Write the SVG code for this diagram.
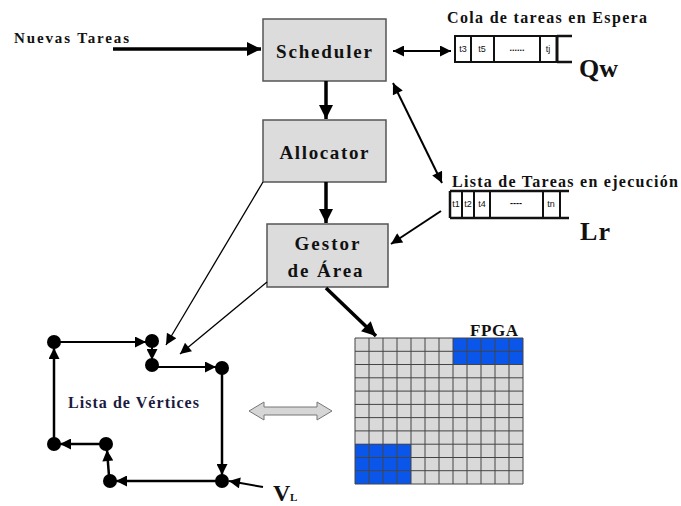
<svg xmlns="http://www.w3.org/2000/svg" width="681" height="506" viewBox="0 0 681 506">
<style>
.box{fill:#dcdcdc;stroke:#555;stroke-width:1.5}
.t{font-family:"Liberation Serif","Times New Roman",serif;font-weight:bold;fill:#111}
.lbl{font-size:19px;text-anchor:middle}
.sm{font-family:"Liberation Sans",Arial,sans-serif;font-size:9px;fill:#111;text-anchor:middle}
.q{fill:#fff;stroke:#111;stroke-width:2}
.thick{stroke:#000;stroke-width:3.5;fill:none}
.thin{stroke:#000;stroke-width:1.3;fill:none}
.med{stroke:#000;stroke-width:2;fill:none}
.v{stroke:#000;stroke-width:2.5;fill:none}
.dot{fill:#000}
.g{fill:#d9d9d9}
.b{fill:#0a56ea}
.gl{stroke:#444;stroke-width:1}
</style>
<defs>
<marker id="ahL" viewBox="0 0 10 10" refX="10" refY="5" markerWidth="16" markerHeight="14" orient="auto-start-reverse" markerUnits="userSpaceOnUse">
<path d="M0,0 L10,5 L0,10 Z" fill="#000"/>
</marker>
<marker id="ahM" viewBox="0 0 10 10" refX="10" refY="5" markerWidth="13" markerHeight="11" orient="auto-start-reverse" markerUnits="userSpaceOnUse">
<path d="M0,0 L10,5 L0,10 Z" fill="#000"/>
</marker>
</defs>

<g id="scheduler">
<rect class="box" x="263" y="19" width="123" height="62"/>
<text class="t lbl" x="324" y="58" textLength="96" lengthAdjust="spacing">Scheduler</text>
</g>
<g id="allocator">
<rect class="box" x="263" y="120" width="123" height="62"/>
<text class="t lbl" x="324" y="159" textLength="89" lengthAdjust="spacing">Allocator</text>
</g>
<g id="gestor">
<rect class="box" x="267" y="224" width="121" height="63"/>
<text class="t lbl" x="327" y="250" textLength="65" lengthAdjust="spacing">Gestor</text>
<text class="t lbl" x="325" y="277" textLength="75" lengthAdjust="spacing">de Área</text>
</g>

<g id="nuevas">
<text class="t" x="14" y="43" font-size="15" textLength="115" lengthAdjust="spacing">Nuevas Tareas</text>
</g>

<g id="cola">
<text class="t" x="447" y="23" font-size="16" textLength="200" lengthAdjust="spacing">Cola de tareas en  Espera</text>
<rect class="q" x="455" y="36" width="102" height="26"/>
<path d="M471,36V62 M494,36V62 M540,36V62" stroke="#111" stroke-width="2"/>
<path d="M557,36H572 M557,62H572" stroke="#111" stroke-width="2.5"/>
<path d="M557,36V62" stroke="#111" stroke-width="3"/>
<text class="sm" x="463" y="52">t3</text>
<text class="sm" x="482" y="52">t5</text>
<text class="sm" x="517" y="51" font-weight="bold" font-size="11">......</text>
<text class="sm" x="548" y="52">tj</text>
<text class="t" x="579" y="77" font-size="26" textLength="39" lengthAdjust="spacing">Qw</text>
</g>

<g id="lista">
<text class="t" x="452" y="187" font-size="16" textLength="226" lengthAdjust="spacing">Lista de Tareas en ejecución</text>
<path d="M450,191H569 M450,218H569 M450,191V218" stroke="#111" stroke-width="2.5" fill="none"/>
<path d="M462,191V218 M474,191V218 M490,191V218 M543,191V218 M560,191V218" stroke="#111" stroke-width="2"/>
<text class="sm" x="456" y="207" font-size="8">t1</text>
<text class="sm" x="468" y="207" font-size="8">t2</text>
<text class="sm" x="482" y="207" font-size="8">t4</text>
<text class="sm" x="516" y="206" font-weight="bold" font-size="11">----</text>
<text class="sm" x="551" y="207" font-size="8">tn</text>
<text class="t" x="580" y="240" font-size="26" textLength="30" lengthAdjust="spacing">Lr</text>
</g>

<g id="vertices">
<text class="t" x="68" y="408" font-size="16" textLength="131" lengthAdjust="spacing" style="fill:#1a1a40">Lista de Vértices</text>
<circle class="dot" cx="54" cy="342" r="7"/>
<circle class="dot" cx="152" cy="341" r="7"/>
<circle class="dot" cx="152" cy="365" r="7"/>
<circle class="dot" cx="222" cy="368" r="7"/>
<circle class="dot" cx="222" cy="481" r="7"/>
<circle class="dot" cx="110" cy="481" r="7"/>
<circle class="dot" cx="106" cy="444" r="7"/>
<circle class="dot" cx="54" cy="444" r="7"/>
<text class="t" x="273" y="501" font-size="24">V</text>
<text class="t" x="290" y="501" font-size="11">L</text>
</g>

<g id="fpga">
<text class="t" x="470" y="336" font-size="17" textLength="48" lengthAdjust="spacing">FPGA</text>
<rect class="g" x="355" y="338" width="168" height="146"/>
<rect class="b" x="453" y="338" width="70" height="26.5"/>
<rect class="b" x="355" y="444" width="56" height="40"/>
<path class="gl" d="M355,338V484 M369,338V484 M383,338V484 M397,338V484 M411,338V484 M425,338V484 M439,338V484 M453,338V484 M467,338V484 M481,338V484 M495,338V484 M509,338V484 M523,338V484"/>
<path class="gl" d="M355,338H523 M355,351.3H523 M355,364.5H523 M355,377.8H523 M355,391.1H523 M355,404.4H523 M355,417.6H523 M355,430.9H523 M355,444.2H523 M355,457.5H523 M355,470.7H523 M355,484H523"/>
</g>

<g id="hollow-arrow">
<path d="M249,411 L264,402 L264,407 L317,407 L317,402 L332,411 L317,420 L317,415 L264,415 L264,420 Z" fill="#d6d6d6" stroke="#777" stroke-width="1"/>
</g>

<g id="connectors">
<line class="thick" x1="113" y1="49" x2="261" y2="49" marker-end="url(#ahL)"/>
<line class="thick" x1="326" y1="81" x2="326" y2="119" marker-end="url(#ahL)"/>
<line class="thick" x1="326" y1="182" x2="326" y2="223" marker-end="url(#ahL)"/>
<line class="med" x1="393" y1="51" x2="451" y2="51" marker-start="url(#ahM)" marker-end="url(#ahM)"/>
<line class="med" x1="393" y1="83" x2="442" y2="183" marker-start="url(#ahM)" marker-end="url(#ahM)"/>
<line class="med" x1="441" y1="211" x2="391" y2="244" marker-end="url(#ahM)"/>
<line class="thick" x1="326" y1="288" x2="376" y2="336" marker-end="url(#ahL)"/>
<line class="thin" x1="263" y1="182" x2="166" y2="345" marker-end="url(#ahM)"/>
<line class="thin" x1="267" y1="282" x2="180" y2="354" marker-end="url(#ahM)"/>
<line class="med" x1="59" y1="342" x2="146" y2="342" marker-end="url(#ahM)"/>
<line class="med" x1="152" y1="346" x2="152" y2="360" marker-end="url(#ahM)"/>
<line class="med" x1="157" y1="367" x2="216" y2="367" marker-end="url(#ahM)"/>
<line class="v" x1="222" y1="374" x2="222" y2="475" marker-end="url(#ahM)"/>
<line class="v" x1="217" y1="481" x2="116" y2="481" marker-end="url(#ahM)"/>
<line class="v" x1="109" y1="476" x2="107" y2="450" marker-end="url(#ahM)"/>
<line class="v" x1="101" y1="444" x2="60" y2="444" marker-end="url(#ahM)"/>
<line class="v" x1="54" y1="439" x2="54" y2="348" marker-end="url(#ahM)"/>
<line class="med" x1="263" y1="487" x2="229" y2="481" marker-end="url(#ahM)"/>
</g>
</svg>
